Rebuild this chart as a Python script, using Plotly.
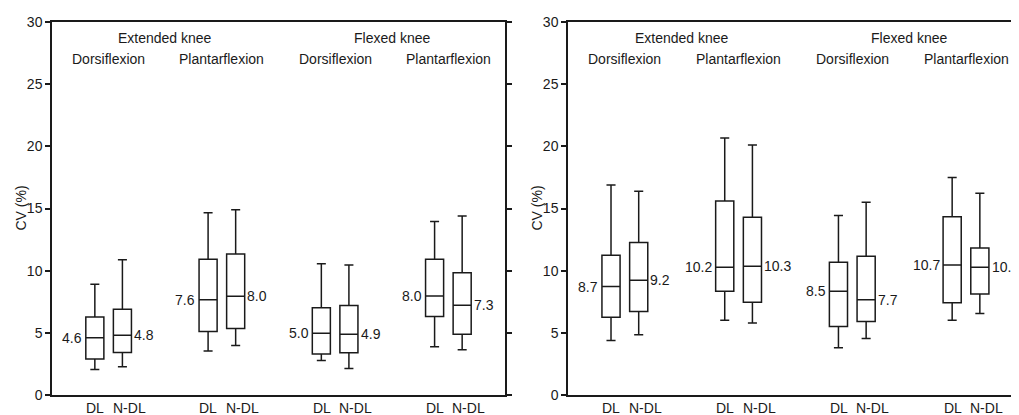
import plotly.graph_objects as go

# ---------------- data ----------------
categories = ["Ext-Dorsi", "Ext-Plantar", "Flex-Dorsi", "Flex-Plantar"]
knee_labels = ["Extended knee", "Flexed knee"]
movement_labels = ["Dorsiflexion", "Plantarflexion", "Dorsiflexion", "Plantarflexion"]
side_labels = ["DL", "N-DL"]
y_ticks = [0, 5, 10, 15, 20, 25, 30]

# Left panel
a_dl_low = [2.06, 3.53, 2.78, 3.88]
a_dl_q1 = [2.89, 5.11, 3.29, 6.31]
a_dl_med = [4.60, 7.67, 4.97, 7.97]
a_dl_q3 = [6.28, 10.91, 7.01, 10.91]
a_dl_up = [8.90, 14.65, 10.56, 13.96]
a_dl_lab = ["4.6", "7.6", "5.0", "8.0"]

a_ndl_low = [2.27, 3.98, 2.14, 3.64]
a_ndl_q1 = [3.42, 5.35, 3.40, 4.89]
a_ndl_med = [4.81, 7.94, 4.89, 7.22]
a_ndl_q3 = [6.90, 11.34, 7.19, 9.84]
a_ndl_up = [10.88, 14.89, 10.45, 14.39]
a_ndl_lab = ["4.8", "8.0", "4.9", "7.3"]

# Right panel
b_dl_low = [4.39, 6.02, 3.80, 6.02]
b_dl_q1 = [6.26, 8.34, 5.51, 7.41]
b_dl_med = [8.72, 10.27, 8.34, 10.45]
b_dl_q3 = [11.23, 15.61, 10.67, 14.33]
b_dl_up = [16.90, 20.67, 14.44, 17.49]
b_dl_lab = ["8.7", "10.2", "8.5", "10.7"]

b_ndl_low = [4.84, 5.80, 4.55, 6.55]
b_ndl_q1 = [6.71, 7.46, 5.91, 8.13]
b_ndl_med = [9.22, 10.35, 7.67, 10.27]
b_ndl_q3 = [12.27, 14.30, 11.15, 11.82]
b_ndl_up = [16.39, 20.11, 15.51, 16.23]
b_ndl_lab = ["9.2", "10.3", "7.7", "10.2"]

# ---------------- styling ----------------
# page body has an 8px margin, so the figure is sized/positioned to compensate
W, H = 1011, 407
INK = "#1a1a1a"
FONT = "Liberation Sans, Arial, sans-serif"
FS = 14

fig = go.Figure()

panels = [
    ("x", "y", [(a_dl_low, a_dl_q1, a_dl_med, a_dl_q3, a_dl_up, a_dl_lab),
                (a_ndl_low, a_ndl_q1, a_ndl_med, a_ndl_q3, a_ndl_up, a_ndl_lab)]),
    ("x2", "y2", [(b_dl_low, b_dl_q1, b_dl_med, b_dl_q3, b_dl_up, b_dl_lab),
                  (b_ndl_low, b_ndl_q1, b_ndl_med, b_ndl_q3, b_ndl_up, b_ndl_lab)]),
]

annotations = []
for xa, ya, series in panels:
    for si, (low, q1, med, q3, up, lab) in enumerate(series):
        fig.add_trace(go.Box(
            x=categories, q1=q1, median=med, q3=q3,
            lowerfence=low, upperfence=up,
            name=side_labels[si], xaxis=xa, yaxis=ya,
            alignmentgroup=xa, offsetgroup=side_labels[si],
            line=dict(color=INK, width=1.5),
            fillcolor="rgba(255,255,255,0)",
            whiskerwidth=0.5, boxpoints=False, hoverinfo="skip",
            showlegend=False,
        ))
        for ci, cat in enumerate(categories):
            if si == 0:
                annotations.append(dict(
                    x=cat, y=med[ci], xref=xa, yref=ya, text=lab[ci],
                    showarrow=False, xanchor="right", yanchor="middle",
                    xshift=-24.5, font=dict(size=FS, color=INK, family=FONT)))
            else:
                annotations.append(dict(
                    x=cat, y=med[ci], xref=xa, yref=ya, text=lab[ci],
                    showarrow=False, xanchor="left", yanchor="middle",
                    xshift=23.5, font=dict(size=FS, color=INK, family=FONT)))
    # bottom group labels and headers
    for ci, cat in enumerate(categories):
        annotations.append(dict(
            x=cat, y=0, xref=xa, yref=ya, text=side_labels[0], showarrow=False,
            xanchor="center", yanchor="middle", xshift=-13.5, yshift=-13,
            font=dict(size=FS, color=INK, family=FONT)))
        annotations.append(dict(
            x=cat, y=0, xref=xa, yref=ya, text=side_labels[1], showarrow=False,
            xanchor="center", yanchor="middle", xshift=20.5, yshift=-13,
            font=dict(size=FS, color=INK, family=FONT)))
        annotations.append(dict(
            x=cat, y=30, xref=xa, yref=ya, text=movement_labels[ci],
            showarrow=False, xanchor="center", yanchor="middle", yshift=-37,
            font=dict(size=FS, color=INK, family=FONT)))
    for ki, kl in enumerate(knee_labels):
        annotations.append(dict(
            x=0.5 + 2 * ki, y=30, xref=xa, yref=ya, text=kl, showarrow=False,
            xanchor="center", yanchor="middle", yshift=-16,
            font=dict(size=FS, color=INK, family=FONT)))
    annotations.append(dict(
        x=0, y=0.5, xref=xa + " domain", yref=ya + " domain", text="CV (%)",
        textangle=-90, showarrow=False, xanchor="center", yanchor="middle",
        xshift=-32, font=dict(size=FS, color=INK, family=FONT)))

axis_common = dict(showgrid=False, zeroline=False, linecolor=INK, linewidth=1.5)

fig.update_layout(
    width=W, height=H,
    margin=dict(l=0, r=0, t=14, b=20),
    paper_bgcolor="white", plot_bgcolor="white",
    boxmode="group", boxgap=0.513, boxgroupgap=0.345,
    font=dict(family=FONT, size=FS, color=INK),
    annotations=annotations,
    xaxis=dict(domain=[44 / W, 497 / W], type="category", range=[-0.5, 3.5],
               showline=True, mirror=True, showticklabels=False, ticks="",
               **axis_common),
    yaxis=dict(domain=[0, 1], range=[0, 30], tickvals=y_ticks,
               showline=True, mirror="ticks", ticks="outside", ticklen=5,
               tickwidth=1.5, tickcolor=INK, tickfont=dict(size=FS, color=INK),
               **axis_common),
    xaxis2=dict(domain=[560 / W, 1.0], type="category", range=[-0.5, 3.466],
                anchor="y2", showline=True, mirror=True, showticklabels=False,
                ticks="", **axis_common),
    yaxis2=dict(domain=[0, 1], range=[0, 30], tickvals=y_ticks, anchor="x2",
                showline=True, mirror=False, ticks="outside", ticklen=5,
                tickwidth=1.5, tickcolor=INK, tickfont=dict(size=FS, color=INK),
                **axis_common),
)

fig.write_html("out.html")
